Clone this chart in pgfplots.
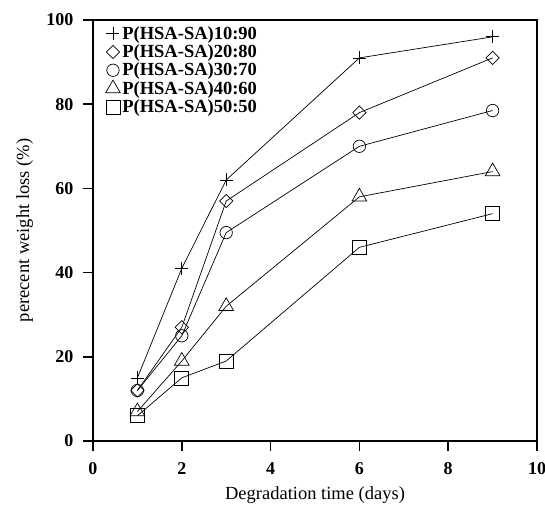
\documentclass[border=0pt]{standalone}
\usepackage{pgfplots}
\pgfplotsset{compat=1.18}
\usepackage{fontspec}
\setmainfont{Liberation Serif}
\begin{document}
\begin{tikzpicture}
\begin{axis}[
  scale only axis,
  width=444pt, height=421pt,
  xmin=0, xmax=10, ymin=0, ymax=100,
  xtick={0,2,4,6,8,10}, ytick={0,20,40,60,80,100},
  xticklabels={\textbf{0},\textbf{2},\textbf{4},\textbf{6},\textbf{8},\textbf{10}},
  yticklabels={\textbf{0},\textbf{20},\textbf{40},\textbf{60},\textbf{80},\textbf{100}},
  tick align=outside, tick pos=left,
  major tick length=10pt,
  every tick/.style={black, line width=1.6pt},
  axis line style={line width=1.6pt},
  tick label style={font=\fontsize{18}{20}\selectfont\bfseries},
  yticklabel style={xshift=-6pt},
  xticklabel style={yshift=-8pt},
  xlabel={Degradation time (days)},
  ylabel={perecent weight loss (\%)},
  label style={font=\fontsize{18.5}{20}\selectfont},
  xlabel style={at={(axis description cs:0.5,-0.1)}, anchor=north},
  ylabel style={at={(axis description cs:-0.127,0.5)}, anchor=south},
  legend style={at={(axis description cs:0.028,0.99)}, anchor=north west, draw=none, fill=none,
    inner sep=0pt, font=\fontsize{18.5}{20.5}\selectfont\bfseries, row sep=0pt,
    /tikz/every even column/.append style={column sep=4pt}},
  legend cell align=left,
  legend image code/.code={\path[draw=none] (0pt,0pt) -- (13pt,0pt); \path[#1] plot coordinates {(6.5pt,0pt)};},
  every axis plot/.append style={black, line width=0.7pt, mark options={solid, fill=white, line width=0.7pt}},
]
\addplot[mark=+, mark size=6.5pt] coordinates {(1,15) (2,41) (3,62) (6,91) (9,96)};
\addlegendentry{P(HSA-SA)10:90}
\addplot[mark=square, mark size=4.7pt, mark options={rotate=45}] coordinates {(1,12) (2,27) (3,57) (6,78) (9,91)};
\addlegendentry{P(HSA-SA)20:80}
\addplot[mark=o, mark size=6.2pt] coordinates {(1,12) (2,25) (3,49.5) (6,70) (9,78.5)};
\addlegendentry{P(HSA-SA)30:70}
\addplot[mark=triangle, mark size=8.5pt] coordinates {(1,7) (2,19) (3,32) (6,58) (9,64)};
\addlegendentry{P(HSA-SA)40:60}
\addplot[mark=square, mark size=7pt] coordinates {(1,6) (2,15) (3,19) (6,46) (9,54)};
\addlegendentry{P(HSA-SA)50:50}
\coordinate (bl) at (rel axis cs:0,0);
\coordinate (tr) at (rel axis cs:1,1);
\end{axis}
\pgfresetboundingbox
\useasboundingbox ([xshift=-93pt,yshift=-63pt]bl) rectangle ([xshift=8pt,yshift=20pt]tr);
\end{tikzpicture}
\end{document}
